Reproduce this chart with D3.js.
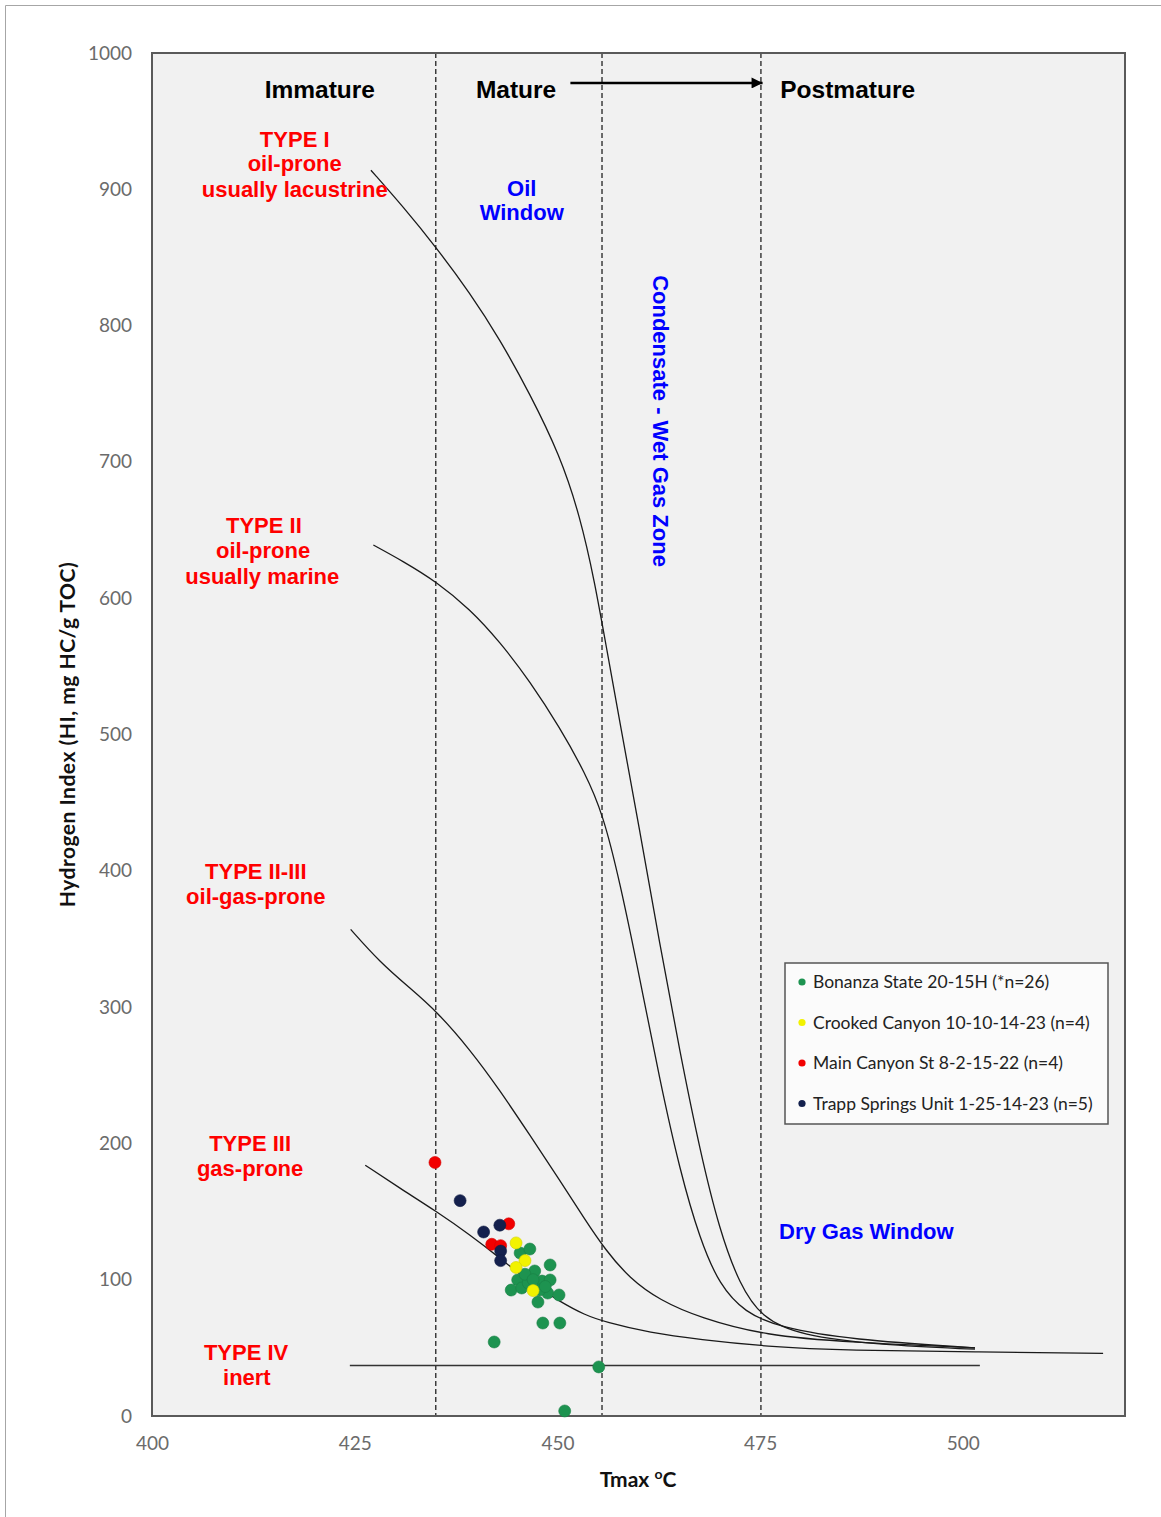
<!DOCTYPE html>
<html><head><meta charset="utf-8">
<script src="https://cdn.jsdelivr.net/npm/d3@7"></script>
<style>
html,body{margin:0;padding:0;background:#fff;}
svg{display:block;}
</style></head>
<body>
<svg id="chart" width="1161" height="1517"></svg>
<script>
// ---------- data ----------
const xTicks = [400, 425, 450, 475, 500];
const yTicks = [0, 100, 200, 300, 400, 500, 600, 700, 800, 900, 1000];
const maturityBounds = [435, 455.5, 475.1];

const seriesNames = ["Bonanza State 20-15H (*n=26)", "Crooked Canyon 10-10-14-23 (n=4)", "Main Canyon St 8-2-15-22 (n=4)", "Trapp Springs Unit 1-25-14-23 (n=5)"];
const seriesColors = ["#1d9350", "#f2f200", "#f20000", "#14204d"];

const bonanzaTmax = [445.4, 446.6, 449.1, 447.2, 445.1, 448.1, 449.1, 444.3, 445.6, 447.6, 448.8, 450.2, 448.2, 450.3, 442.2, 455.1, 450.9, 446.4, 447.8, 446.0, 448.5, 447.0];
const bonanzaHI   = [119.6, 122.5, 110.8, 106.4, 99.8, 99.0, 99.8, 92.4, 93.9, 83.6, 90.2, 88.8, 68.2, 68.2, 54.3, 36.0, 3.7, 97.6, 92.4, 104, 95, 100];
const crookedTmax = [444.9, 446.0, 444.9, 447.0];
const crookedHI   = [127, 114, 109, 92];
const mainTmax    = [434.9, 444.0, 441.9, 443.0];
const mainHI      = [186, 141, 126, 125];
const trappTmax   = [438.0, 440.9, 442.9, 443.0, 443.0];
const trappHI     = [158, 135, 140, 121, 114];

// kerogen type boundary curves (Tmax, HI)
const type1Tmax = [427.0, 431.0, 435.1, 439.2, 442.9, 446.6, 450.3, 452.8, 454.6, 456.1, 457.7, 460.2, 462.6, 465.1, 467.6, 470.0, 472.5, 475.2, 479.9, 489.8, 501.5];
const type1HI   = [914, 887, 857, 824, 790, 750, 705, 660, 612, 562, 509, 428, 347, 267, 194, 136, 96, 72, 59, 52, 49];
const type2Tmax = [427.3, 431.0, 435.1, 439.2, 442.9, 446.6, 450.3, 453.4, 455.6, 457.7, 460.2, 462.6, 465.1, 467.6, 470.0, 473.1, 477.4, 486.1, 501.5];
const type2HI   = [639, 627, 612, 592, 568, 539, 505, 472, 442, 392, 320, 247, 180, 129, 96, 76, 65, 56, 50];
const type23Tmax = [424.5, 428.1, 431.8, 435.1, 439.2, 442.9, 446.6, 450.3, 453.4, 455.9, 458.9, 462.6, 467.6, 475.6, 486.1, 501.5];
const type23HI   = [357, 333, 314, 297, 269, 239, 206, 173, 144, 122, 101, 85, 72, 59, 54, 50];
const type3Tmax = [426.3, 430.6, 435.1, 439.2, 442.9, 446.6, 450.3, 453.4, 455.9, 461.4, 467.6, 475.6, 486.1, 501.5, 517.3];
const type3HI   = [184, 167, 150, 133, 116, 98, 84, 74, 69, 61, 56, 51, 48, 47, 46];
const type4Tmax = [424.4, 502.1];
const type4HI   = [37, 37];

// ---------- layout ----------
const svg = d3.select("#chart");
const x = d3.scaleLinear().domain([400, 520]).range([152, 1125]);
const y = d3.scaleLinear().domain([0, 1000]).range([1416, 53]);

// outer frame
svg.append("path").attr("d", "M5.5,1517 L5.5,5.5 L1161,5.5").attr("fill", "none").attr("stroke", "#a6a6a6").attr("stroke-width", 1);

// plot area
svg.append("rect").attr("x", x(400)).attr("y", y(1000)).attr("width", x(520) - x(400)).attr("height", y(0) - y(1000))
  .attr("fill", "#f1f1f1");

// axis tick labels
const tickFont = "Lato, 'Open Sans', sans-serif";
const gx = svg.append("g").attr("transform", `translate(0,${y(0)})`)
  .call(d3.axisBottom(x).tickValues(xTicks).tickFormat(d3.format("d")).tickSize(0).tickPadding(21));
const gy = svg.append("g").attr("transform", `translate(${x(400)},0)`)
  .call(d3.axisLeft(y).tickValues(yTicks).tickFormat(d3.format("d")).tickSize(0).tickPadding(20));
[gx, gy].forEach(g => {
  g.select(".domain").remove();
  g.selectAll("text").attr("font-family", tickFont).attr("font-size", 19).attr("fill", "#6b6b6b");
});

// maturity boundaries
svg.append("g").selectAll("line").data(maturityBounds).join("line")
  .attr("x1", d => x(d)).attr("x2", d => x(d)).attr("y1", y(1000)).attr("y2", y(0))
  .attr("stroke", "#111").attr("stroke-width", 1.2).attr("stroke-dasharray", "5,3");

// curves
const line = d3.line().x(d => x(d[0])).y(d => y(d[1])).curve(d3.curveBasis);
const curves = [[type1Tmax, type1HI], [type2Tmax, type2HI], [type23Tmax, type23HI], [type3Tmax, type3HI]];
svg.append("g").selectAll("path").data(curves).join("path")
  .attr("d", c => line(d3.zip(c[0], c[1])))
  .attr("fill", "none").attr("stroke", "#1a1a1a").attr("stroke-width", 1.3);
svg.append("path").attr("d", d3.line().x(d => x(d[0])).y(d => y(d[1]))(d3.zip(type4Tmax, type4HI)))
  .attr("fill", "none").attr("stroke", "#333").attr("stroke-width", 1.6);

// plot border
svg.append("rect").attr("x", x(400)).attr("y", y(1000)).attr("width", x(520) - x(400)).attr("height", y(0) - y(1000))
  .attr("fill", "none").attr("stroke", "#5a5a5a").attr("stroke-width", 2);

// points
const pointSets = [[bonanzaTmax, bonanzaHI], [crookedTmax, crookedHI], [mainTmax, mainHI], [trappTmax, trappHI]];
pointSets.forEach((s, i) => {
  svg.append("g").selectAll("circle").data(d3.zip(s[0], s[1])).join("circle")
    .attr("cx", d => x(d[0])).attr("cy", d => y(d[1])).attr("r", 6)
    .attr("fill", seriesColors[i]).attr("stroke", d3.color(seriesColors[i]).darker(0.4)).attr("stroke-width", 0.6);
});

// annotations
const boldFont = "'Liberation Sans', Arial, sans-serif";
const annotations = [
  {t: "Immature", x: 420.7, y: 973.6, c: "#000", s: 24.5},
  {t: "Mature", x: 444.9, y: 973.6, c: "#000", s: 24.5},
  {t: "Postmature", x: 485.8, y: 973.6, c: "#000", s: 24.5},
  {t: "TYPE I", x: 417.6, y: 937, c: "#ff0000", s: 22},
  {t: "oil-prone", x: 417.6, y: 919, c: "#ff0000", s: 22},
  {t: "usually lacustrine", x: 417.6, y: 900.5, c: "#ff0000", s: 22},
  {t: "Oil", x: 445.6, y: 901, c: "#0000ff", s: 22},
  {t: "Window", x: 445.6, y: 883, c: "#0000ff", s: 22},
  {t: "TYPE II", x: 413.8, y: 654, c: "#ff0000", s: 22},
  {t: "oil-prone", x: 413.7, y: 635.5, c: "#ff0000", s: 22},
  {t: "usually marine", x: 413.6, y: 616.5, c: "#ff0000", s: 22},
  {t: "TYPE II-III", x: 412.8, y: 400, c: "#ff0000", s: 22},
  {t: "oil-gas-prone", x: 412.8, y: 381.5, c: "#ff0000", s: 22},
  {t: "TYPE III", x: 412.1, y: 200, c: "#ff0000", s: 22},
  {t: "gas-prone", x: 412.1, y: 182, c: "#ff0000", s: 22},
  {t: "TYPE IV", x: 411.6, y: 47, c: "#ff0000", s: 22},
  {t: "inert", x: 411.7, y: 28.6, c: "#ff0000", s: 22},
  {t: "Dry Gas Window", x: 488.1, y: 135.7, c: "#0000ff", s: 22}
];
svg.append("g").selectAll("text").data(annotations).join("text")
  .attr("x", d => x(d.x)).attr("y", d => y(d.y)).attr("dy", "0.36em")
  .attr("text-anchor", "middle").attr("font-family", boldFont).attr("font-weight", "bold")
  .attr("font-size", d => d.s).attr("fill", d => d.c).text(d => d.t);

svg.append("text").attr("transform", `translate(${x(462.8)},${y(730)}) rotate(90)`).attr("dy", "0.36em")
  .attr("text-anchor", "middle").attr("font-family", boldFont).attr("font-weight", "bold")
  .attr("font-size", 22).attr("fill", "#0000ff").text("Condensate - Wet Gas Zone");

// arrow
svg.append("defs").append("marker").attr("id", "arr").attr("viewBox", "0 0 10 10").attr("refX", 10).attr("refY", 5)
  .attr("markerWidth", 15).attr("markerHeight", 11).attr("markerUnits", "userSpaceOnUse").attr("orient", "auto")
  .append("path").attr("d", "M0,0 L10,5 L0,10 z").attr("fill", "#000");
svg.append("line").attr("x1", x(451.6)).attr("x2", x(475.3)).attr("y1", y(978)).attr("y2", y(978))
  .attr("stroke", "#000").attr("stroke-width", 2.4).attr("marker-end", "url(#arr)");

// axis titles
svg.append("text").attr("transform", `translate(67,${y(500)}) rotate(-90)`).attr("dy", "0.36em")
  .attr("text-anchor", "middle").attr("font-family", "Lato, 'Open Sans', sans-serif").attr("font-weight", "bold")
  .attr("font-size", 21).attr("letter-spacing", 0.5).attr("fill", "#111").text("Hydrogen Index (HI, mg HC/g TOC)");
const xt = svg.append("text").attr("x", 638).attr("y", 1487)
  .attr("text-anchor", "middle").attr("font-family", "Lato, 'Open Sans', sans-serif").attr("font-weight", "bold")
  .attr("font-size", 21).attr("fill", "#111");
xt.append("tspan").text("Tmax ");
xt.append("tspan").attr("font-size", 14).attr("dy", -8).text("o");
xt.append("tspan").attr("dy", 8).text("C");

// legend
const lg = svg.append("g").attr("transform", "translate(785,963)");
lg.append("rect").attr("width", 323).attr("height", 161).attr("fill", "#fbfbfb").attr("stroke", "#555").attr("stroke-width", 1.5);
const li = lg.selectAll("g.item").data(seriesNames).join("g").attr("class", "item")
  .attr("transform", (d, i) => `translate(0,${19 + i * 40.5})`);
li.append("circle").attr("cx", 17).attr("cy", 0).attr("r", 3.6).attr("fill", (d, i) => seriesColors[i]);
li.append("text").attr("x", 28).attr("dy", "0.35em").attr("font-family", "Lato, 'Open Sans', sans-serif")
  .attr("font-size", 17.5).attr("fill", "#222").text(d => d);
</script>
</body></html>
